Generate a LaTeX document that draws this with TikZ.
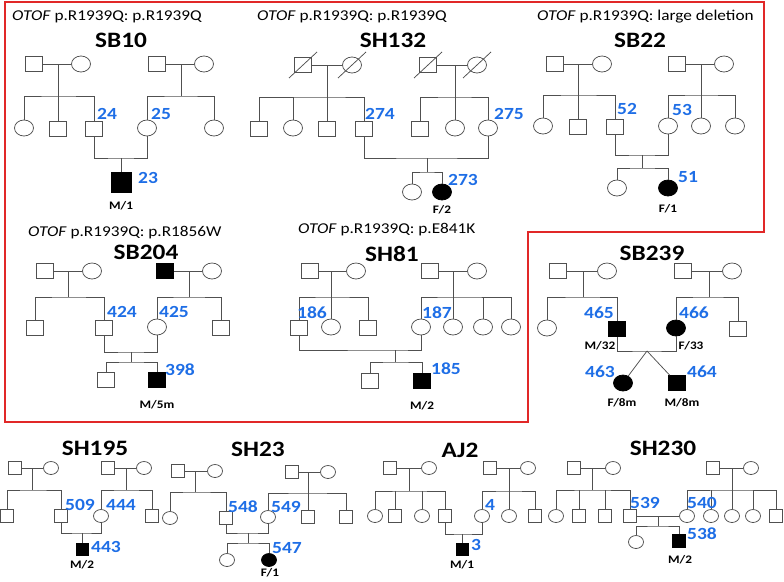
\documentclass[tikz,border=0pt]{standalone}
\usepackage{fontspec}
\setmainfont{Carlito}[FakeStretch=1.15]
\usetikzlibrary{shapes.geometric}
\definecolor{lc}{RGB}{80,80,80}
\definecolor{lblue}{RGB}{30,110,230}
\definecolor{fr}{RGB}{225,40,40}
\begin{document}
\begin{tikzpicture}[x=1pt,y=-1pt,
  ln/.style={draw=lc,line width=0.75pt},
  sq/.style={rectangle,draw=lc,line width=0.75pt,inner sep=0pt,minimum width=17pt,minimum height=15pt},
  ci/.style={ellipse,draw=lc,line width=0.75pt,inner sep=0pt,minimum width=19pt,minimum height=16pt},
  bsq/.style={sq,minimum width=13pt,minimum height=12.5pt},
  bci/.style={ci,minimum width=15pt,minimum height=13pt},
  aff/.style={fill=black,draw=black},
  ttl/.style={font=\bfseries\fontsize{22}{22}\selectfont,inner sep=0pt},
  sub/.style={font=\fontsize{15}{15}\selectfont,inner sep=0pt,anchor=base west},
  lbl/.style={font=\bfseries\fontsize{17}{17}\selectfont,text=lblue,inner sep=0pt},
  info/.style={font=\bfseries\fontsize{11.5}{11.5}\selectfont,inner sep=0pt}]
\useasboundingbox (0,0) rectangle (784,581);
% red frame
\draw[fr,line width=1.5pt] (5,2) -- (764,2) -- (764,232) -- (528,232) -- (528,422) -- (5,422) -- cycle;

% ================= SB10 =================
\node[sub] (s1) at (12,20) {\textit{OTOF} p.R1939Q: p.R1939Q};
\node[ttl] (t1) at (121,40) {SB10};
\node[sq] (a1) at (34,64) {}; \node[ci] (a2) at (81,64) {};
\node[ci] (a3) at (24,128) {}; \node[sq] (a4) at (58,129) {}; \node[sq] (a5) at (94,129) {};
\node[sq] (a6) at (157,64) {}; \node[ci] (a7) at (204,64) {};
\node[ci] (a8) at (147,128) {}; \node[ci] (a9) at (214,128) {};
\node[sq,aff,minimum width=20pt,minimum height=20pt] (a10) at (121,182) {};
\coordinate (a1s) at (58,96); \coordinate (a2s) at (181,96); \coordinate (a3m) at (121,158);
\draw[ln] (a1) -- (a2); \draw[ln] (a1s|-a1) -- (a1s);
\draw[ln] (a3) |- (a1s) -| (a5); \draw[ln] (a4) -- (a1s);
\draw[ln] (a6) -- (a7); \draw[ln] (a2s|-a6) -- (a2s);
\draw[ln] (a8) |- (a2s) -| (a9);
\draw[ln] (a5) |- (a3m) -| (a8); \draw[ln] (a3m) -- (a10);
\node[lbl] (l24) at (107,114) {24};
\node[lbl] (l25) at (161,114) {25};
\node[lbl] (l23) at (148,178) {23};
\node[info] (i23) at (121,206) {M/1};

% ================= SH132 =================
\node[sub] (s2) at (257,20) {\textit{OTOF} p.R1939Q: p.R1939Q};
\node[ttl] (t2) at (393,40) {SH132};
\node[sq] (b1) at (303,65) {}; \node[ci] (b2) at (352,65) {};
\node[sq] (b3) at (259,129) {}; \node[ci] (b4) at (293,128) {};
\node[sq] (b5) at (327,129) {}; \node[sq] (b6) at (364,129) {};
\node[sq] (b7) at (428,65) {}; \node[ci] (b8) at (477,65) {};
\node[sq] (b9) at (420,129) {}; \node[ci] (b10) at (455,128) {}; \node[ci] (b11) at (488,128) {};
\node[ci] (b12) at (412,192) {}; \node[ci,aff] (b13) at (442,192) {};
\coordinate (b1s) at (327,97); \coordinate (b2s) at (455,97);
\coordinate (b3m) at (427,158); \coordinate (b3s) at (427,172);
\draw[ln] (b1) -- (b2); \draw[ln] (b1s|-b1) -- (b1s);
\draw[ln] (b3) |- (b1s) -| (b6); \draw[ln] (b4) -- (b4|-b1s); \draw[ln] (b5) -- (b1s);
\draw[ln] (b7) -- (b8); \draw[ln] (b2s|-b7) -- (b2s);
\draw[ln] (b9) |- (b2s) -| (b11); \draw[ln] (b10) -- (b2s);
\draw[ln] (b6) |- (b3m) -| (b11); \draw[ln] (b3m) -- (b3s);
\draw[ln] (b12) |- (b3s) -| (b13);
\foreach \n in {b1,b2,b7,b8}
  \draw[ln] ([shift={(-14,13)}]\n.center) -- ([shift={(14,-13)}]\n.center);
\node[lbl] (l274) at (380,114) {274};
\node[lbl] (l275) at (509,114) {275};
\node[lbl] (l273) at (463,180) {273};
\node[info] (i273) at (442,210) {F/2};

% ================= SB22 =================
\node[sub] (s3) at (537,20) {\textit{OTOF} p.R1939Q: large deletion};
\node[ttl] (t3) at (640,40) {SB22};
\node[sq] (c1) at (555,64) {}; \node[ci] (c2) at (602,64) {};
\node[ci] (c3) at (543,126) {}; \node[sq] (c4) at (578,127) {}; \node[sq] (c5) at (615,127) {};
\node[sq] (c6) at (677,64) {}; \node[ci] (c7) at (724,64) {};
\node[ci] (c8) at (668,126) {}; \node[ci] (c9) at (701,126) {}; \node[ci] (c10) at (735,126) {};
\node[ci] (c11) at (617,188) {}; \node[ci,aff] (c12) at (668,188) {};
\coordinate (c1s) at (578,95); \coordinate (c2s) at (701,95);
\coordinate (c3m) at (642,155); \coordinate (c3s) at (642,168);
\draw[ln] (c1) -- (c2); \draw[ln] (c1s|-c1) -- (c1s);
\draw[ln] (c3) |- (c1s) -| (c5); \draw[ln] (c4) -- (c1s);
\draw[ln] (c6) -- (c7); \draw[ln] (c2s|-c6) -- (c2s);
\draw[ln] (c8) |- (c2s) -| (c10); \draw[ln] (c9) -- (c2s);
\draw[ln] (c5) |- (c3m) -| (c8); \draw[ln] (c3m) -- (c3s);
\draw[ln] (c11) |- (c3s) -| (c12);
\node[lbl] (l52) at (627,109) {52};
\node[lbl] (l53) at (682,110) {53};
\node[lbl] (l51) at (688,177) {51};
\node[info] (i51) at (668,209) {F/1};

% ================= SB204 =================
\node[sub] (s4) at (28,236) {\textit{OTOF} p.R1939Q: p.R1856W};
\node[ttl] (t4) at (146,252) {SB204};
\node[sq] (d1) at (45,271) {}; \node[ci] (d2) at (92,271) {};
\node[sq] (d3) at (35,328) {}; \node[sq] (d4) at (104,328) {};
\node[sq,aff] (d5) at (165,271) {}; \node[ci] (d6) at (212,271) {};
\node[ci] (d7) at (157,327) {}; \node[sq] (d8) at (221,328) {};
\node[sq] (d9) at (106,380) {}; \node[sq,aff] (d10) at (157,380) {};
\coordinate (d1s) at (68,297); \coordinate (d2s) at (189,297);
\coordinate (d3m) at (131,352); \coordinate (d3s) at (131,362);
\draw[ln] (d1) -- (d2); \draw[ln] (d1s|-d1) -- (d1s);
\draw[ln] (d3) |- (d1s) -| (d4);
\draw[ln] (d5) -- (d6); \draw[ln] (d2s|-d5) -- (d2s);
\draw[ln] (d7) |- (d2s) -| (d8);
\draw[ln] (d4) |- (d3m) -| (d7); \draw[ln] (d3m) -- (d3s);
\draw[ln] (d9) |- (d3s) -| (d10);
\node[lbl] (l424) at (122,312) {424};
\node[lbl] (l425) at (174,312) {425};
\node[lbl] (l398) at (180,370) {398};
\node[info] (i398) at (157,405) {M/5m};

% ================= SH81 =================
\node[sub] (s5) at (298,233) {\textit{OTOF} p.R1939Q: p.E841K};
\node[ttl] (t5) at (392,254) {SH81};
\node[sq] (e1) at (310,271) {}; \node[ci] (e2) at (356,271) {};
\node[sq] (e3) at (299,328) {}; \node[ci] (e4) at (331,327) {}; \node[sq] (e5) at (368,328) {};
\node[sq] (e6) at (430,271) {}; \node[ci] (e7) at (477,271) {};
\node[ci] (e8) at (421,327) {}; \node[ci] (e9) at (453,327) {};
\node[ci] (e10) at (483,327) {}; \node[ci] (e11) at (511,327) {};
\node[sq] (e12) at (370,381) {}; \node[sq,aff] (e13) at (422,381) {};
\coordinate (e1s) at (331,297); \coordinate (e2s) at (453,297);
\coordinate (e3m) at (395,350); \coordinate (e3s) at (395,362);
\draw[ln] (e1) -- (e2); \draw[ln] (e1s|-e1) -- (e1s);
\draw[ln] (e3) |- (e1s) -| (e5); \draw[ln] (e4) -- (e1s);
\draw[ln] (e6) -- (e7); \draw[ln] (e2s|-e6) -- (e2s);
\draw[ln] (e8) |- (e2s) -| (e11); \draw[ln] (e9) -- (e2s); \draw[ln] (e10) -- (e10|-e2s);
\draw[ln] (e3) |- (e3m) -| (e8); \draw[ln] (e3m) -- (e3s);
\draw[ln] (e12) |- (e3s) -| (e13);
\node[lbl] (l186) at (312,313) {186};
\node[lbl] (l187) at (437,313) {187};
\node[lbl] (l185) at (446,369) {185};
\node[info] (i185) at (422,406) {M/2};

% ================= SB239 =================
\node[ttl] (t6) at (652,253) {SB239};
\node[sq] (f1) at (558,271) {}; \node[ci] (f2) at (607,271) {};
\node[ci] (f3) at (547,328) {}; \node[sq,aff] (f4) at (617,329) {};
\node[sq] (f5) at (683,271) {}; \node[ci] (f6) at (732,271) {};
\node[ci,aff] (f7) at (676,328) {}; \node[sq] (f8) at (738,329) {};
\node[ci,aff] (f9) at (623,383) {}; \node[sq,aff] (f10) at (677,383) {};
\coordinate (f1s) at (583,297); \coordinate (f2s) at (709,297); \coordinate (ftw) at (647,351);
\draw[ln] (f1) -- (f2); \draw[ln] (f1s|-f1) -- (f1s);
\draw[ln] (f3) |- (f1s) -| (f4);
\draw[ln] (f5) -- (f6); \draw[ln] (f2s|-f5) -- (f2s);
\draw[ln] (f7) |- (f2s) -| (f8);
\draw[ln] (f4) |- (ftw) -| (f7);
\draw[ln] (ftw) -- (f9); \draw[ln] (ftw) -- (f10);
\node[lbl] (l465) at (599,313) {465};
\node[lbl] (l466) at (694,313) {466};
\node[lbl] (l463) at (600,372) {463};
\node[lbl] (l464) at (702,372) {464};
\node[info] (i465) at (600,346) {M/32};
\node[info] (i466) at (691,346) {F/33};
\node[info] (i463) at (622,403) {F/8m};
\node[info] (i464) at (682,403) {M/8m};

% ================= SH195 =================
\node[ttl] (t7) at (95,448) {SH195};
\node[bsq] (g1) at (15,468) {}; \node[bci] (g2) at (51,468) {};
\node[bsq] (g3) at (7,516) {}; \node[bsq] (g4) at (61,516) {};
\node[bsq] (g5) at (108,468) {}; \node[bci] (g6) at (144,468) {};
\node[bci] (g7) at (101,516) {}; \node[bsq] (g8) at (152,516) {};
\node[bsq,aff,minimum width=12pt,minimum height=12pt] (g9) at (82,549) {};
\coordinate (g1s) at (32,490); \coordinate (g2s) at (126,490); \coordinate (g3m) at (82,533);
\draw[ln] (g1) -- (g2); \draw[ln] (g1s|-g1) -- (g1s);
\draw[ln] (g3) |- (g1s) -| (g4);
\draw[ln] (g5) -- (g6); \draw[ln] (g2s|-g5) -- (g2s);
\draw[ln] (g7) |- (g2s) -| (g8);
\draw[ln] (g4) |- (g3m) -| (g7); \draw[ln] (g3m) -- (g9);
\node[lbl] (l509) at (80,505) {509};
\node[lbl] (l444) at (121,505) {444};
\node[lbl] (l443) at (106,547) {443};
\node[info] (i443) at (82,565) {M/2};

% ================= SH23 =================
\node[ttl] (t8) at (258,449) {SH23};
\node[bsq] (h1) at (178,471) {}; \node[bci] (h2) at (215,471) {};
\node[bci] (h3) at (170,518) {}; \node[bsq] (h4) at (226,518) {};
\node[bsq] (h5) at (292,472) {}; \node[bci] (h6) at (328,472) {};
\node[bci] (h7) at (268,517) {}; \node[bsq] (h8) at (308,517) {}; \node[bsq] (h9) at (346,517) {};
\node[bci] (h10) at (227,560) {}; \node[bci,aff] (h11) at (269,560) {};
\coordinate (h1s) at (195,492); \coordinate (h2s) at (308,493);
\coordinate (h3m) at (248,533); \coordinate (h3s) at (248,543);
\draw[ln] (h1) -- (h2); \draw[ln] (h1s|-h1) -- (h1s);
\draw[ln] (h3) |- (h1s) -| (h4);
\draw[ln] (h5) -- (h6); \draw[ln] (h2s|-h5) -- (h2s);
\draw[ln] (h7) |- (h2s) -| (h9); \draw[ln] (h8) -- (h2s);
\draw[ln] (h4) |- (h3m) -| (h7); \draw[ln] (h3m) -- (h3s);
\draw[ln] (h10) |- (h3s) -| (h11);
\node[lbl] (l548) at (243,507) {548};
\node[lbl] (l549) at (286,507) {549};
\node[lbl] (l547) at (287,548) {547};
\node[info] (i547) at (270,573) {F/1};

% ================= AJ2 =================
\node[ttl] (t9) at (460,450) {AJ2};
\node[bsq] (k1) at (390,468) {}; \node[bci] (k2) at (429,468) {};
\node[bci] (k3) at (375,516) {}; \node[bsq] (k4) at (395,516) {};
\node[bci] (k5) at (422,516) {}; \node[bsq] (k6) at (445,516) {};
\node[bsq] (k7) at (490,468) {}; \node[bci] (k8) at (528,468) {};
\node[bci] (k9) at (482,516) {}; \node[bci] (k10) at (509,516) {}; \node[bsq] (k11) at (535,516) {};
\node[bsq,aff,minimum width=12pt,minimum height=12pt] (k12) at (462,549) {};
\coordinate (k1s) at (409,491); \coordinate (k2s) at (509,491); \coordinate (k3m) at (462,534);
\draw[ln] (k1) -- (k2); \draw[ln] (k1s|-k1) -- (k1s);
\draw[ln] (k3) |- (k1s) -| (k6); \draw[ln] (k4) -- (k4|-k1s); \draw[ln] (k5) -- (k5|-k1s);
\draw[ln] (k7) -- (k8); \draw[ln] (k2s|-k7) -- (k2s);
\draw[ln] (k9) |- (k2s) -| (k11); \draw[ln] (k10) -- (k2s);
\draw[ln] (k6) |- (k3m) -| (k9); \draw[ln] (k3m) -- (k12);
\node[lbl] (l4) at (490,505) {4};
\node[lbl] (l3) at (476,545) {3};
\node[info] (i3) at (462,565) {M/1};

% ================= SH230 =================
\node[ttl] (t10) at (663,448) {SH230};
\node[bsq] (j1) at (574,468) {}; \node[bci] (j2) at (613,468) {};
\node[bci] (j3) at (556,516) {}; \node[bsq] (j4) at (579,516) {};
\node[bsq] (j5) at (605,516) {}; \node[bsq] (j6) at (630,516) {};
\node[bsq] (j7) at (713,468) {}; \node[bci] (j8) at (751,468) {};
\node[bci] (j9) at (687,516) {}; \node[bci] (j10) at (711,516) {}; \node[bci] (j11) at (732,516) {};
\node[bci] (j12) at (753,516) {}; \node[bsq] (j13) at (776,516) {};
\node[bci] (j14) at (636,542) {}; \node[bsq,aff] (j15) at (679,541) {};
\coordinate (j1s) at (592,490); \coordinate (j2s) at (732,490);
\coordinate (j3m) at (658,516); \coordinate (j3s) at (658,526);
\draw[ln] (j1) -- (j2); \draw[ln] (j1s|-j1) -- (j1s);
\draw[ln] (j3) |- (j1s) -| (j6); \draw[ln] (j4) -- (j4|-j1s); \draw[ln] (j5) -- (j5|-j1s);
\draw[ln] (j7) -- (j8); \draw[ln] (j2s|-j7) -- (j2s);
\draw[ln] (j9) |- (j2s) -| (j13); \draw[ln] (j10) -- (j10|-j2s);
\draw[ln] (j11) -- (j2s); \draw[ln] (j12) -- (j12|-j2s);
\draw[ln] (j6) -- (j9); \draw[ln] (j3m) -- (j3s);
\draw[ln] (j14) |- (j3s) -| (j15);
\node[lbl] (l539) at (645,503) {539};
\node[lbl] (l540) at (702,503) {540};
\node[lbl] (l538) at (702,534) {538};
\node[info] (i538) at (680,560) {M/2};
\end{tikzpicture}
\end{document}
